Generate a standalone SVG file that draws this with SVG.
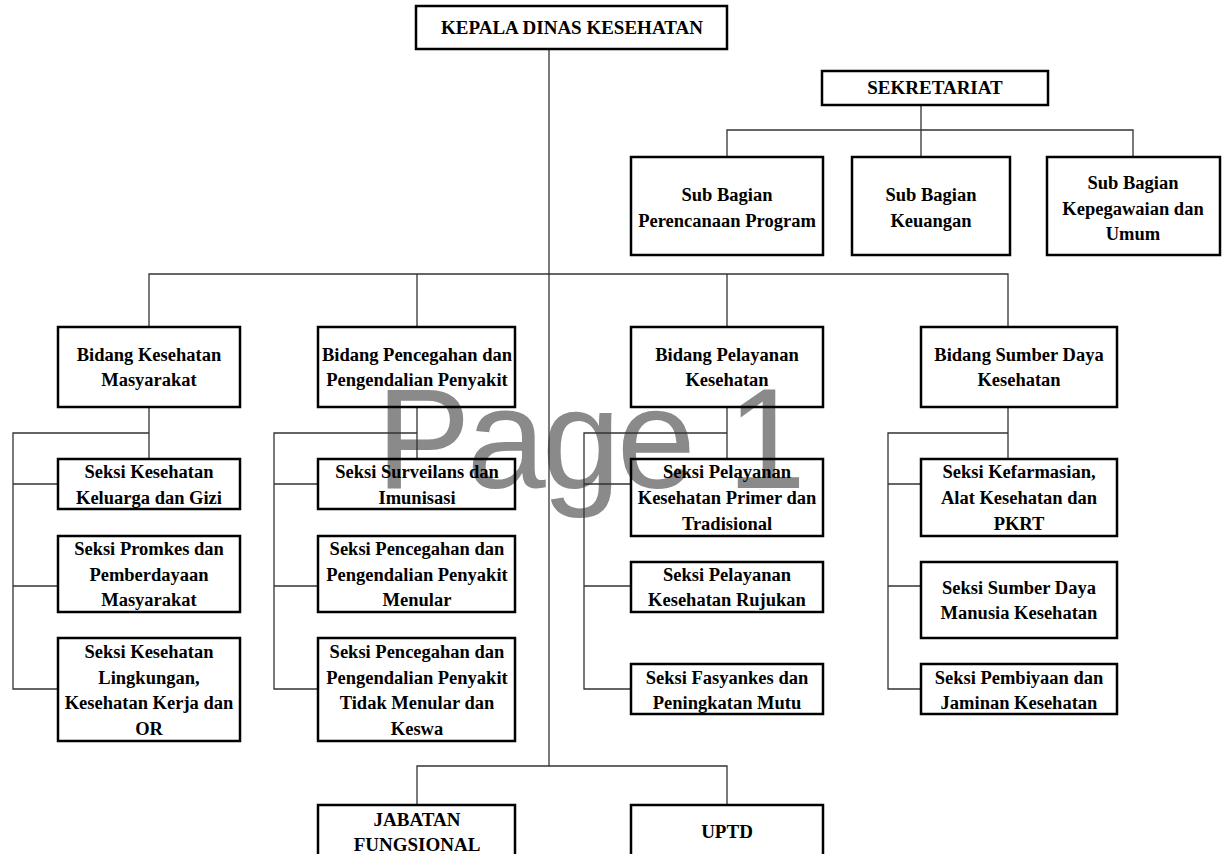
<svg xmlns="http://www.w3.org/2000/svg" width="1225" height="854" viewBox="0 0 1225 854">
<style>
.box{fill:none;stroke:#000;stroke-width:2.5}
.t{font-family:"Liberation Serif","Times New Roman",serif;font-weight:bold;font-size:18.5px;fill:#000;text-anchor:middle}
.u{font-size:19px}
.c{fill:none;stroke:#333;stroke-width:1.3}
.wm{font-family:"Liberation Sans",Arial,sans-serif;font-size:142px;letter-spacing:-4px;fill:#8a8a8a}
</style>
<rect width="1225" height="854" fill="#fff"/>
<text class="wm" x="376" y="488">Page 1</text>
<g id="connectors">
<path class="c" d="M549 49V766"/>
<path class="c" d="M921 105V157M727 157V130H1133V157"/>
<path class="c" d="M149 327V274H1008V327M417 274V327M727 274V327"/>
<path class="c" d="M149 407V459M149 433H13V689H58M13 484H58M13 586H58"/>
<path class="c" d="M417 407V459M417 433H274V689H318M274 484H318M274 586H318"/>
<path class="c" d="M727 407V459M727 433H584V689H631M584 484H631M584 586H631"/>
<path class="c" d="M1008 407V459M1008 433H888V689H921M888 484H921M888 586H921"/>
<path class="c" d="M417 805V766H727V805"/>
</g>
<g id="kepala"><rect class="box" x="416" y="6" width="311" height="43"/><text class="t u" x="572" y="34">KEPALA DINAS KESEHATAN</text></g>
<g id="sekretariat"><rect class="box" x="822" y="71" width="226" height="34"/><text class="t u" x="935" y="94">SEKRETARIAT</text></g>
<g id="sub1"><rect class="box" x="631" y="157" width="192" height="98"/><text class="t" x="727" y="201">Sub Bagian</text><text class="t" x="727" y="227">Perencanaan Program</text></g>
<g id="sub2"><rect class="box" x="852" y="157" width="158" height="98"/><text class="t" x="931" y="201">Sub Bagian</text><text class="t" x="931" y="227">Keuangan</text></g>
<g id="sub3"><rect class="box" x="1047" y="157" width="173" height="98"/><text class="t" x="1133" y="189">Sub Bagian</text><text class="t" x="1133" y="215">Kepegawaian dan</text><text class="t" x="1133" y="240">Umum</text></g>
<g id="bidang1"><rect class="box" x="58" y="327" width="182" height="80"/><text class="t" x="149" y="361">Bidang Kesehatan</text><text class="t" x="149" y="386">Masyarakat</text></g>
<g id="bidang2"><rect class="box" x="318" y="327" width="197" height="80"/><text class="t" x="417" y="361">Bidang Pencegahan dan</text><text class="t" x="417" y="386">Pengendalian Penyakit</text></g>
<g id="bidang3"><rect class="box" x="631" y="327" width="192" height="80"/><text class="t" x="727" y="361">Bidang Pelayanan</text><text class="t" x="727" y="386">Kesehatan</text></g>
<g id="bidang4"><rect class="box" x="921" y="327" width="196" height="80"/><text class="t" x="1019" y="361">Bidang Sumber Daya</text><text class="t" x="1019" y="386">Kesehatan</text></g>
<g id="seksi1a"><rect class="box" x="58" y="459" width="182" height="50"/><text class="t" x="149" y="478">Seksi Kesehatan</text><text class="t" x="149" y="504">Keluarga dan Gizi</text></g>
<g id="seksi1b"><rect class="box" x="58" y="536" width="182" height="76"/><text class="t" x="149" y="555">Seksi Promkes dan</text><text class="t" x="149" y="581">Pemberdayaan</text><text class="t" x="149" y="606">Masyarakat</text></g>
<g id="seksi1c"><rect class="box" x="58" y="638" width="182" height="103"/><text class="t" x="149" y="658">Seksi Kesehatan</text><text class="t" x="149" y="684">Lingkungan,</text><text class="t" x="149" y="709">Kesehatan Kerja dan</text><text class="t" x="149" y="735">OR</text></g>
<g id="seksi2a"><rect class="box" x="318" y="459" width="197" height="50"/><text class="t" x="417" y="478">Seksi Surveilans dan</text><text class="t" x="417" y="504">Imunisasi</text></g>
<g id="seksi2b"><rect class="box" x="318" y="536" width="197" height="76"/><text class="t" x="417" y="555">Seksi Pencegahan dan</text><text class="t" x="417" y="581">Pengendalian Penyakit</text><text class="t" x="417" y="606">Menular</text></g>
<g id="seksi2c"><rect class="box" x="318" y="638" width="197" height="103"/><text class="t" x="417" y="658">Seksi Pencegahan dan</text><text class="t" x="417" y="684">Pengendalian Penyakit</text><text class="t" x="417" y="709">Tidak Menular dan</text><text class="t" x="417" y="735">Keswa</text></g>
<g id="seksi3a"><rect class="box" x="631" y="459" width="192" height="77"/><text class="t" x="727" y="478">Seksi Pelayanan</text><text class="t" x="727" y="504">Kesehatan Primer dan</text><text class="t" x="727" y="530">Tradisional</text></g>
<g id="seksi3b"><rect class="box" x="631" y="562" width="192" height="50"/><text class="t" x="727" y="581">Seksi Pelayanan</text><text class="t" x="727" y="606">Kesehatan Rujukan</text></g>
<g id="seksi3c"><rect class="box" x="631" y="664" width="192" height="50"/><text class="t" x="727" y="684">Seksi Fasyankes dan</text><text class="t" x="727" y="709">Peningkatan Mutu</text></g>
<g id="seksi4a"><rect class="box" x="921" y="459" width="196" height="77"/><text class="t" x="1019" y="478">Seksi Kefarmasian,</text><text class="t" x="1019" y="504">Alat Kesehatan dan</text><text class="t" x="1019" y="530">PKRT</text></g>
<g id="seksi4b"><rect class="box" x="921" y="562" width="196" height="76"/><text class="t" x="1019" y="594">Seksi Sumber Daya</text><text class="t" x="1019" y="619">Manusia Kesehatan</text></g>
<g id="seksi4c"><rect class="box" x="921" y="664" width="196" height="50"/><text class="t" x="1019" y="684">Seksi Pembiyaan dan</text><text class="t" x="1019" y="709">Jaminan Kesehatan</text></g>
<g id="jabatan"><rect class="box" x="318" y="805" width="197" height="70"/><text class="t u" x="417" y="826">JABATAN</text><text class="t u" x="417" y="851">FUNGSIONAL</text></g>
<g id="uptd"><rect class="box" x="631" y="805" width="192" height="70"/><text class="t u" x="727" y="838">UPTD</text></g>
</svg>
